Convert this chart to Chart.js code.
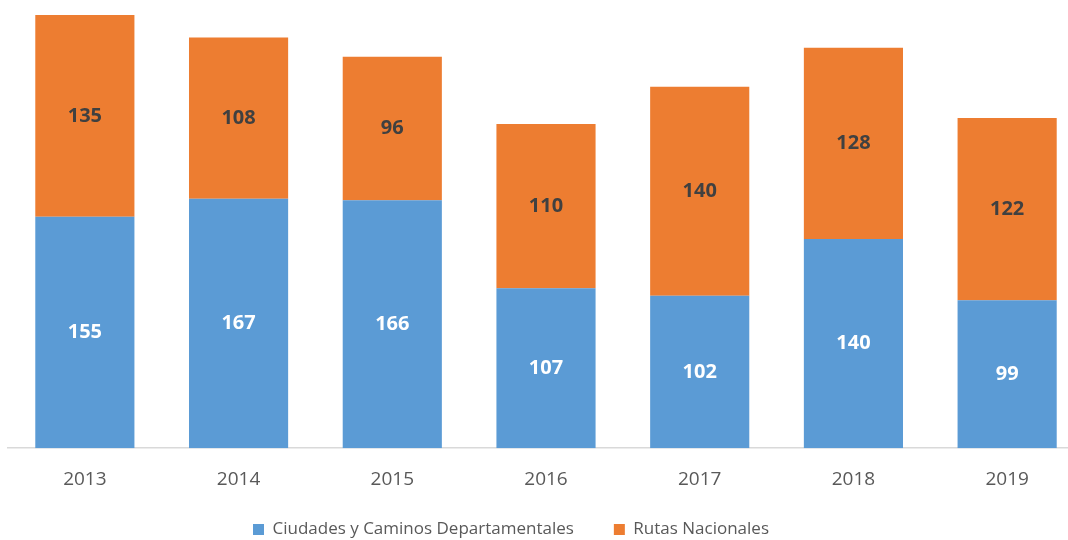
<!DOCTYPE html>
<html>
<head>
<meta charset="utf-8">
<script src="https://cdn.jsdelivr.net/npm/chart.js@4"></script>
<style>
  html, body { margin: 0; padding: 0; background: #fff; overflow: hidden; }
  #wrap { position: relative; width: 1084px; height: 540px; }
</style>
</head>
<body>
<div id="wrap"><canvas id="myChart"></canvas></div>
<script>
// Datos
const anios = ['2013', '2014', '2015', '2016', '2017', '2018', '2019'];
const ciudadesCaminos = [155, 167, 166, 107, 102, 140, 99];
const rutasNacionales = [135, 108, 96, 110, 140, 128, 122];

// Etiquetas dentro de cada segmento
const etiquetasBarras = {
    id: 'etiquetasBarras',
    afterDatasetsDraw(chart) {
        const ctx = chart.ctx;
        ctx.save();
        ctx.font = 'bold 20px "Open Sans"';
        ctx.textAlign = 'center';
        ctx.textBaseline = 'middle';
        chart.data.datasets.forEach((ds, i) => {
            const meta = chart.getDatasetMeta(i);
            ctx.fillStyle = ds.labelColor;
            meta.data.forEach((bar, j) => {
                const p = bar.getProps(['x', 'y', 'base'], true);
                ctx.fillText(ds.data[j], p.x, (p.y + p.base) / 2);
            });
        });
        ctx.restore();
    }
};

// Acomodar la leyenda
const moverLeyenda = {
    id: 'moverLeyenda',
    afterLayout(chart) {
        const dx = -35;
        chart.legend.left += dx;
        chart.legend.right += dx;
        chart.legend.top = 481;
    }
};

function grafikOlustur() {
    const ctx = document.getElementById('myChart').getContext('2d');
    return new Chart(ctx, {
        type: 'bar',
        data: {
            labels: anios,
            datasets: [
                {
                    label: 'Ciudades y Caminos Departamentales',
                    data: ciudadesCaminos,
                    backgroundColor: '#5B9BD5',
                    labelColor: '#ffffff',
                    categoryPercentage: 1,
                    barPercentage: 0.645
                },
                {
                    label: 'Rutas Nacionales',
                    data: rutasNacionales,
                    backgroundColor: '#ED7D31',
                    labelColor: '#404040',
                    categoryPercentage: 1,
                    barPercentage: 0.645
                }
            ]
        },
        options: {
            responsive: true,
            maintainAspectRatio: false,
            animation: false,
            layout: { padding: { top: 15, left: 8, right: 0, bottom: 0 } },
            plugins: {
                tooltip: { enabled: false },
                legend: {
                    position: 'bottom',
                    maxHeight: 37,
                    labels: {
                        boxWidth: 11,
                        boxHeight: 11,
                        padding: 40,
                        color: '#595959',
                        font: { family: '"Open Sans"', size: 17 }
                    }
                }
            },
            scales: {
                x: {
                    stacked: true,
                    grid: { display: false },
                    border: { color: '#D9D9D9', width: 1.5 },
                    ticks: {
                        color: '#595959',
                        padding: 12,
                        font: { family: '"Open Sans"', size: 19 }
                    }
                },
                y: {
                    stacked: true,
                    display: false,
                    min: 0,
                    max: 290
                }
            }
        },
        plugins: [etiquetasBarras, moverLeyenda]
    });
}

const myChart = grafikOlustur();
</script>
</body>
</html>
